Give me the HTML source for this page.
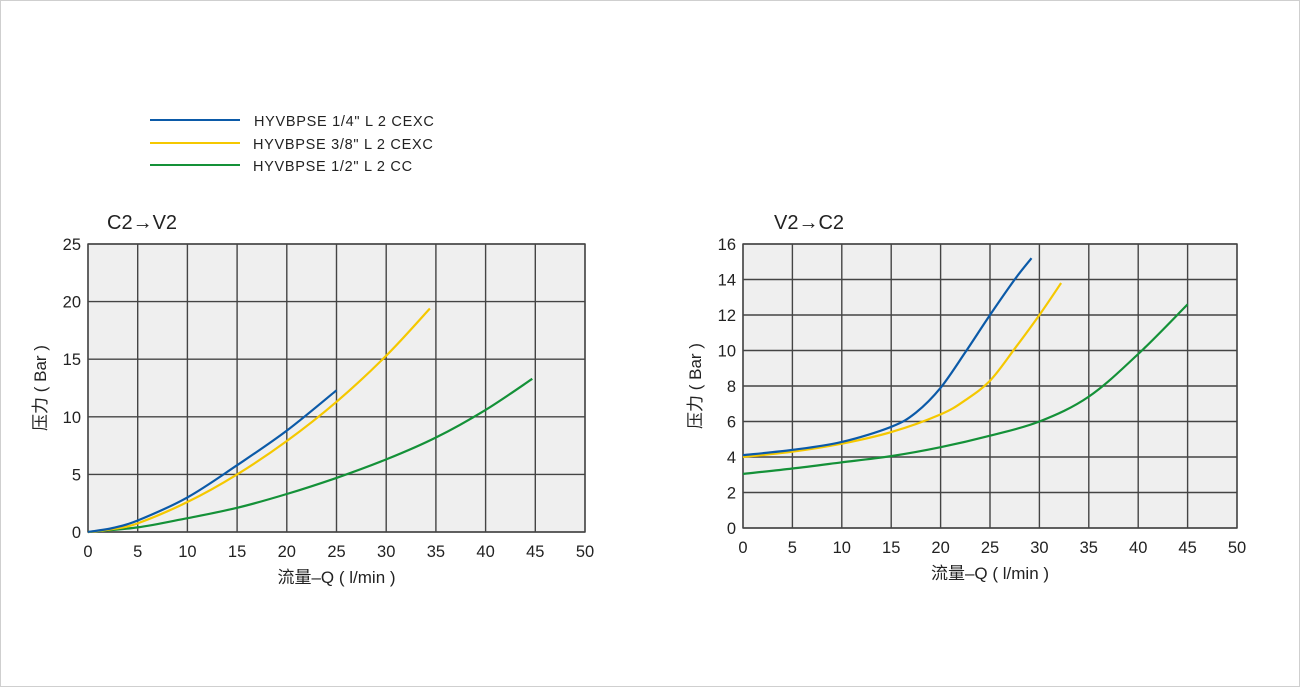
<!DOCTYPE html>
<html><head><meta charset="utf-8">
<style>
html,body{margin:0;padding:0;background:#fff;}
svg{display:block;font-family:"Liberation Sans","Noto Sans CJK SC",sans-serif;}
</style></head>
<body>
<svg id="root" width="1300" height="687" viewBox="0 0 1300 687">
<rect x="0.5" y="0.5" width="1299" height="686" fill="#fff" stroke="#cfcfcf"/>
<g>
 <g><line x1="150" y1="120" x2="240" y2="120" stroke="#0b5aa8" stroke-width="2"/><text x="254" y="126" font-size="14.5" letter-spacing="0.7" fill="#222">HYVBPSE 1/4" L 2 CEXC</text></g>
 <g><line x1="150" y1="143" x2="240" y2="143" stroke="#f5c800" stroke-width="2"/><text x="253" y="149" font-size="14.5" letter-spacing="0.7" fill="#222">HYVBPSE 3/8" L 2 CEXC</text></g>
 <g><line x1="150" y1="165" x2="240" y2="165" stroke="#149138" stroke-width="2"/><text x="253" y="171" font-size="14.5" letter-spacing="0.7" fill="#222">HYVBPSE 1/2" L 2 CC</text></g>
</g>
<g id="c1"></g>
<g id="c2"></g>
</svg>
<script>
const xTicks = [0,5,10,15,20,25,30,35,40,45,50];
const yTicksLeft = [0,5,10,15,20,25];
const yTicksRight = [0,2,4,6,8,10,12,14,16];

const leftBlueX = [0,2.5,5,10,15,20,25];
const leftBlueY = [0,0.35,1.0,3.0,5.8,8.8,12.3];
const leftYellowX = [0,2.5,5,10,15,20,25,30,34.4];
const leftYellowY = [0,0.25,0.75,2.6,5.0,7.9,11.3,15.3,19.4];
const leftGreenX = [0,5,10,15,20,25,30,35,40,44.7];
const leftGreenY = [0,0.4,1.2,2.1,3.3,4.7,6.3,8.2,10.6,13.3];

const rightBlueX = [0,5,10,15,17.5,20,22.5,25,27.5,29.2];
const rightBlueY = [4.1,4.4,4.85,5.7,6.5,7.9,9.9,12.0,14.0,15.2];
const rightYellowX = [0,5,10,15,20,22.5,25,27.5,30,32.2];
const rightYellowY = [4.0,4.3,4.75,5.4,6.4,7.2,8.3,10.1,12.0,13.8];
const rightGreenX = [0,5,10,15,20,25,30,35,40,45];
const rightGreenY = [3.05,3.35,3.7,4.05,4.55,5.2,6.0,7.4,9.8,12.6];

const NS='http://www.w3.org/2000/svg';
function mk(tag,attrs,parent){const e=document.createElementNS(NS,tag);for(const k in attrs)e.setAttribute(k,attrs[k]);parent.appendChild(e);return e;}

function spline(pts){
  let d='M'+pts[0][0].toFixed(1)+','+pts[0][1].toFixed(1);
  for(let i=0;i<pts.length-1;i++){
    const p0=pts[i-1]||pts[i],p1=pts[i],p2=pts[i+1],p3=pts[i+2]||p2;
    const c1=[p1[0]+(p2[0]-p0[0])/6,p1[1]+(p2[1]-p0[1])/6];
    const c2=[p2[0]-(p3[0]-p1[0])/6,p2[1]-(p3[1]-p1[1])/6];
    d+=' C'+c1[0].toFixed(1)+','+c1[1].toFixed(1)+' '+c2[0].toFixed(1)+','+c2[1].toFixed(1)+' '+p2[0].toFixed(1)+','+p2[1].toFixed(1);
  }
  return d;
}

function chart(g,cfg){
  const sx=v=>cfg.x0+(v-0)/50*(cfg.x1-cfg.x0);
  const sy=v=>cfg.y0-(v/cfg.ymax)*(cfg.y0-cfg.y1);
  const bg=mk('rect',{x:cfg.x0,y:cfg.y1,width:cfg.x1-cfg.x0,height:cfg.y0-cfg.y1,fill:'#efefef',stroke:'#444','stroke-width':1.4},g);
  
  
  xTicks.forEach(t=>{
    const l=mk('line',{x1:sx(t),x2:sx(t),y1:cfg.y1,y2:cfg.y0,stroke:'#444','stroke-width':1.4},g);
    
    
    const tx=mk('text',{x:sx(t),y:cfg.y0+25,'font-size':16.5,'text-anchor':'middle',fill:'#222'},g);
    
    
    tx.textContent=t;
  });
  cfg.yTicks.forEach(t=>{
    const l=mk('line',{x1:cfg.x0,x2:cfg.x1,y1:sy(t),y2:sy(t),stroke:'#444','stroke-width':1.4},g);
    
    
    const tx=mk('text',{x:cfg.x0-7,y:sy(t)+6,'font-size':16.5,'text-anchor':'end',fill:'#222'},g);
    
    
    tx.textContent=t;
  });
  const ti=mk('text',{x:cfg.tx,y:cfg.ty,'font-size':20,fill:'#222'},g);
  
  
  ti.textContent=cfg.title;
  const xt=mk('text',{x:(cfg.x0+cfg.x1)/2,y:cfg.y0+51,'font-size':17,'text-anchor':'middle',fill:'#222'},g);
  
  
  xt.textContent='流量–Q ( l/min )';
  const cy=(cfg.y0+cfg.y1)/2;
  const yt=mk('text',{x:cfg.x0-42,y:cy,'font-size':17,'text-anchor':'middle',fill:'#222',transform:'rotate(-90 '+(cfg.x0-42)+' '+cy+')'},g);
  
  
  yt.textContent='压力 ( Bar )';
  cfg.series.forEach(s=>{
    const pts=s.x.map((v,i)=>[sx(v),sy(s.y[i])]);
    const p=mk('path',{d:spline(pts),fill:'none',stroke:s.c,'stroke-width':2.2},g);
    
    
  });
}
chart(document.getElementById('c1'),{x0:88,x1:585,y0:532,y1:244,ymax:25,yTicks:yTicksLeft,title:'C2→V2',tx:107,ty:229,
  series:[{x:leftGreenX,y:leftGreenY,c:'#149138',n:'series-half-inch-cc'},{x:leftYellowX,y:leftYellowY,c:'#f5c800',n:'series-3-8-cexc'},{x:leftBlueX,y:leftBlueY,c:'#0b5aa8',n:'series-1-4-cexc'}]});
chart(document.getElementById('c2'),{x0:743,x1:1237,y0:528,y1:244,ymax:16,yTicks:yTicksRight,title:'V2→C2',tx:774,ty:229,
  series:[{x:rightGreenX,y:rightGreenY,c:'#149138',n:'series-half-inch-cc'},{x:rightYellowX,y:rightYellowY,c:'#f5c800',n:'series-3-8-cexc'},{x:rightBlueX,y:rightBlueY,c:'#0b5aa8',n:'series-1-4-cexc'}]});
</script>
</body></html>
